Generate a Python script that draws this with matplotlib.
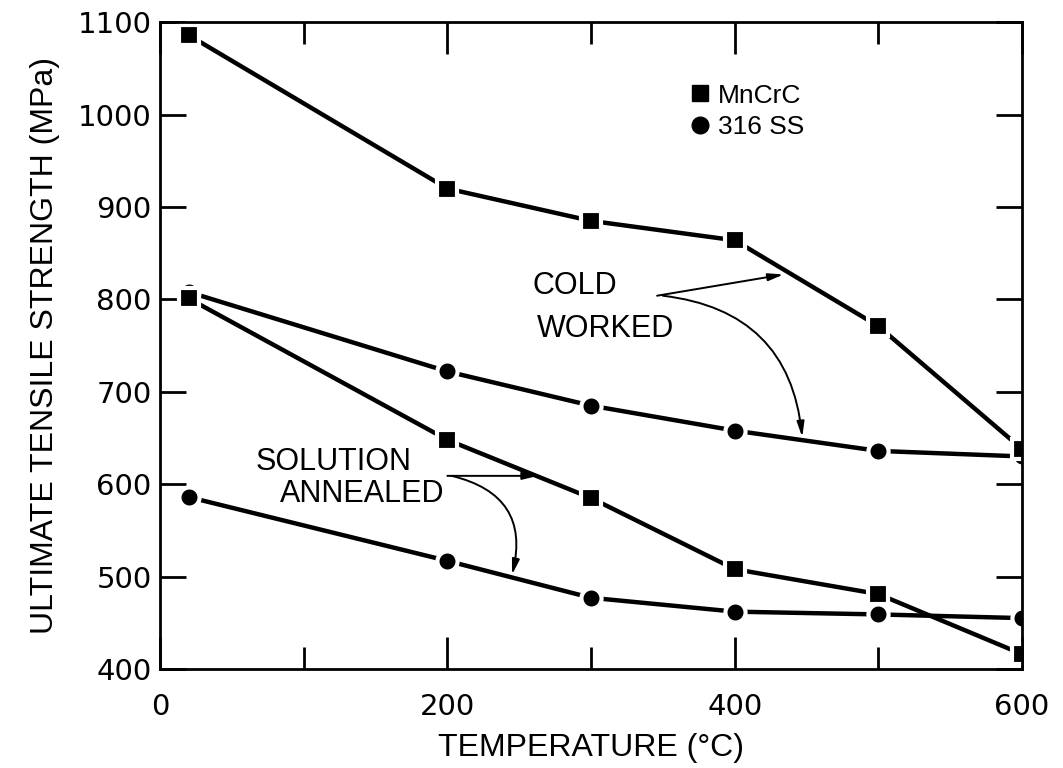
import matplotlib.pyplot as plt
from matplotlib.lines import Line2D
from matplotlib.ticker import MultipleLocator

# temperatures (C)
temps = [20, 200, 300, 400, 500, 600]

# ultimate tensile strength (MPa)
mncrc_cold = [1086, 920, 885, 864, 771, 638]
ss316_cold = [808, 722, 685, 658, 636, 630]
mncrc_anneal = [801, 648, 585, 508, 481, 416]
ss316_anneal = [586, 517, 477, 462, 459, 455]

narrow = ['Liberation Sans', 'DejaVu Sans']

fig = plt.figure(figsize=(10.63, 7.68), dpi=100)
ax = fig.add_axes([0.1505, 0.129, 0.811, 0.842])

line_kw = dict(color='black', lw=3.2, markerfacecolor='black',
               markeredgecolor='white', markeredgewidth=3)
# circles first so the squares sit on top where they overlap
ax.plot(temps, ss316_anneal, marker='o', markersize=14.5, **line_kw)
ax.plot(temps, ss316_cold, marker='o', markersize=14.5, **line_kw)
ax.plot(temps, mncrc_anneal, marker='s', markersize=14.5, **line_kw)
ax.plot(temps, mncrc_cold, marker='s', markersize=14.5, **line_kw)

ax.set_xlim(0, 600)
ax.set_ylim(400, 1100)
ax.xaxis.set_major_locator(MultipleLocator(200))
ax.xaxis.set_minor_locator(MultipleLocator(100))
ax.yaxis.set_major_locator(MultipleLocator(100))
ax.tick_params(which='both', direction='in', top=True, right=True, width=2)
ax.tick_params(axis='x', which='major', length=23, pad=17, labelsize=21)
ax.tick_params(axis='x', which='minor', length=16)
ax.tick_params(axis='y', which='major', length=19, pad=6, labelsize=21)
for s in ax.spines.values():
    s.set_linewidth(2)

ax.set_xlabel('TEMPERATURE (°C)', fontsize=23, family=narrow, labelpad=9)
ax.set_ylabel('ULTIMATE TENSILE STRENGTH (MPa)', fontsize=23, family=narrow,
              labelpad=13)

handles = [Line2D([], [], ls='none', marker='s', color='black', markersize=12),
           Line2D([], [], ls='none', marker='o', color='black', markersize=12)]
ax.legend(handles, ['MnCrC', '316 SS'], frameon=False, loc='upper left',
          bbox_to_anchor=(0.584, 0.942), handletextpad=0.15, labelspacing=0.3,
          handlelength=1.0, prop={'family': narrow, 'size': 19})

txt_kw = dict(fontsize=22, family=narrow, va='center')
ax.text(259, 814, 'COLD', ha='left', **txt_kw)
ax.text(262, 768, 'WORKED', ha='left', **txt_kw)
ax.text(121, 624, 'SOLUTION', ha='center', **txt_kw)
ax.text(141, 589, 'ANNEALED', ha='center', **txt_kw)

arr = dict(arrowstyle='-|>,head_length=0.9,head_width=0.22', color='black',
           lw=1.4, shrinkA=0, shrinkB=0)
ax.annotate('', xy=(434, 827), xytext=(346, 804),
            arrowprops=dict(connectionstyle='arc3,rad=0', **arr))
ax.annotate('', xy=(447, 651), xytext=(350, 804),
            arrowprops=dict(connectionstyle='arc3,rad=-0.4', **arr))
ax.annotate('', xy=(263, 609), xytext=(200, 609),
            arrowprops=dict(connectionstyle='arc3,rad=0', **arr))
ax.annotate('', xy=(245, 502), xytext=(203, 609),
            arrowprops=dict(connectionstyle='arc3,rad=-0.5', **arr))

fig.savefig('out.png', dpi=100)
